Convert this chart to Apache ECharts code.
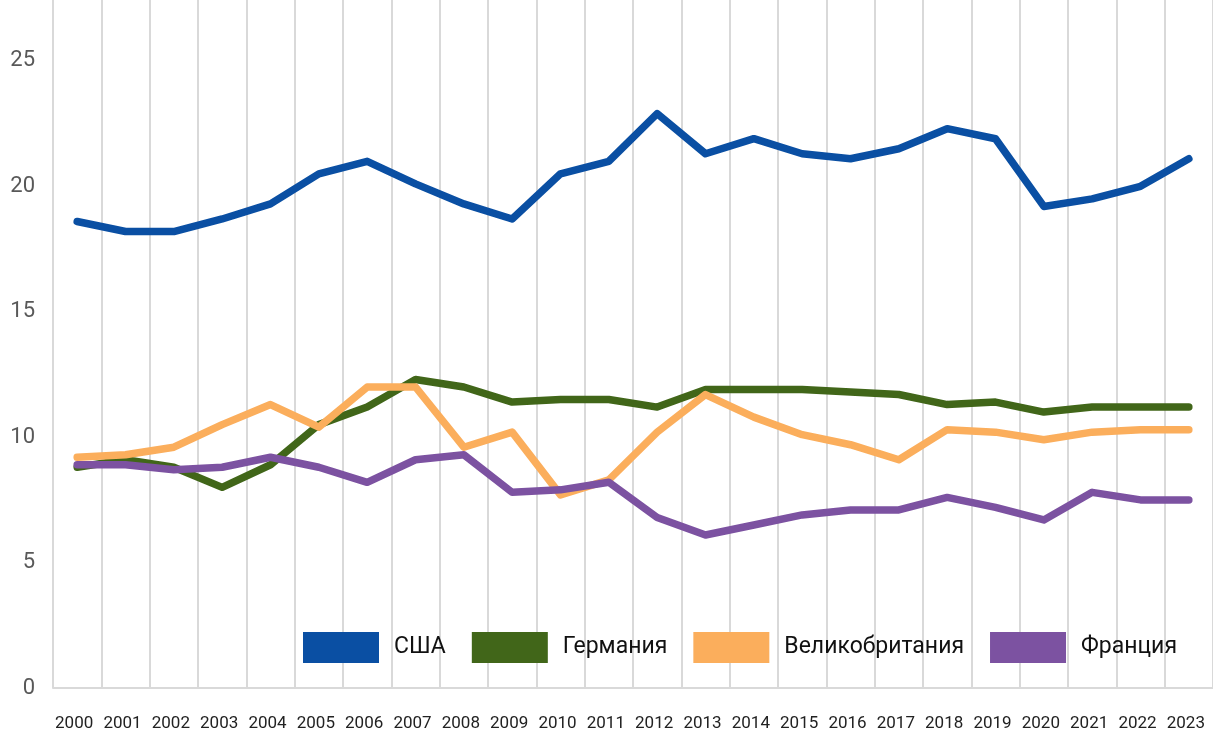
<!DOCTYPE html>
<html>
<head>
<meta charset="utf-8">
<script src="https://cdn.jsdelivr.net/npm/echarts@6/dist/echarts.min.js"></script>
<style>
  html, body { margin: 0; padding: 0; background: #fff; }
  #chart { width: 1213px; height: 733px; }
</style>
</head>
<body>
<div id="chart"></div>
<script>
var years = ['2000', '2001', '2002', '2003', '2004', '2005', '2006', '2007', '2008', '2009', '2010', '2011',
  '2012', '2013', '2014', '2015', '2016', '2017', '2018', '2019', '2020', '2021', '2022', '2023']
var usa = [18.6, 18.2, 18.2, 18.7, 19.3, 20.5, 21.0, 20.1, 19.3, 18.7, 20.5, 21.0,
  22.9, 21.3, 21.9, 21.3, 21.1, 21.5, 22.3, 21.9, 19.2, 19.5, 20.0, 21.1]
var germany = [8.8, 9.1, 8.8, 8.0, 8.9, 10.5, 11.2, 12.3, 12.0, 11.4, 11.5, 11.5,
  11.2, 11.9, 11.9, 11.9, 11.8, 11.7, 11.3, 11.4, 11.0, 11.2, 11.2, 11.2]
var uk = [9.2, 9.3, 9.6, 10.5, 11.3, 10.4, 12.0, 12.0, 9.6, 10.2, 7.7, 8.3,
  10.2, 11.7, 10.8, 10.1, 9.7, 9.1, 10.3, 10.2, 9.9, 10.2, 10.3, 10.3]
var france = [8.9, 8.9, 8.7, 8.8, 9.2, 8.8, 8.2, 9.1, 9.3, 7.8, 7.9, 8.2,
  6.8, 6.1, 6.5, 6.9, 7.1, 7.1, 7.6, 7.2, 6.7, 7.8, 7.5, 7.5]
var yTicks = [0, 5, 10, 15, 20, 25]

var font = 'Roboto, "Noto Sans", sans-serif'
var myChart = echarts.init(document.getElementById('chart'))

function line (name, data, color) {
  return {
    name: name,
    type: 'line',
    data: data,
    symbol: 'none',
    lineStyle: { width: 7.5, color: color, cap: 'round', join: 'round' },
    itemStyle: { color: color }
  }
}

var option = {
  animation: false,
  // grid runs to the top edge so the vertical lines reach it, as in the original
  grid: { left: 53, right: -10, top: 0, bottom: 45 },
  legend: {
    left: 298,
    top: 627,
    icon: 'rect',
    itemWidth: 76,
    itemHeight: 31,
    itemGap: 26,
    textStyle: { fontFamily: font, fontSize: 23, color: '#111', padding: [0, 0, 0, 10] },
    data: ['США', 'Германия', 'Великобритания', 'Франция']
  },
  xAxis: {
    type: 'category',
    data: years,
    boundaryGap: true,
    axisLine: { lineStyle: { color: '#d9d9d9', width: 2 } },
    axisTick: { show: false },
    axisLabel: { interval: 0, margin: 27, fontFamily: font, fontSize: 17, color: '#222', padding: [0, 6, 0, 0] },
    splitLine: { show: true, interval: 0, lineStyle: { color: '#d9d9d9', width: 2 } }
  },
  yAxis: {
    type: 'value',
    min: yTicks[0],
    max: 27.43,
    interval: 5,
    axisLine: { show: false },
    axisTick: { show: false },
    splitLine: { show: false },
    axisLabel: {
      margin: 18,
      showMaxLabel: false,
      fontFamily: font,
      fontSize: 22,
      color: '#595959',
      formatter: function (v) { return yTicks.indexOf(v) >= 0 ? String(v) : '' }
    }
  },
  series: [
    line('США', usa, '#0A4FA3'),
    line('Германия', germany, '#416619'),
    line('Великобритания', uk, '#FBAE5C'),
    line('Франция', france, '#7C52A1')
  ]
}
myChart.setOption(option)
</script>
</body>
</html>
